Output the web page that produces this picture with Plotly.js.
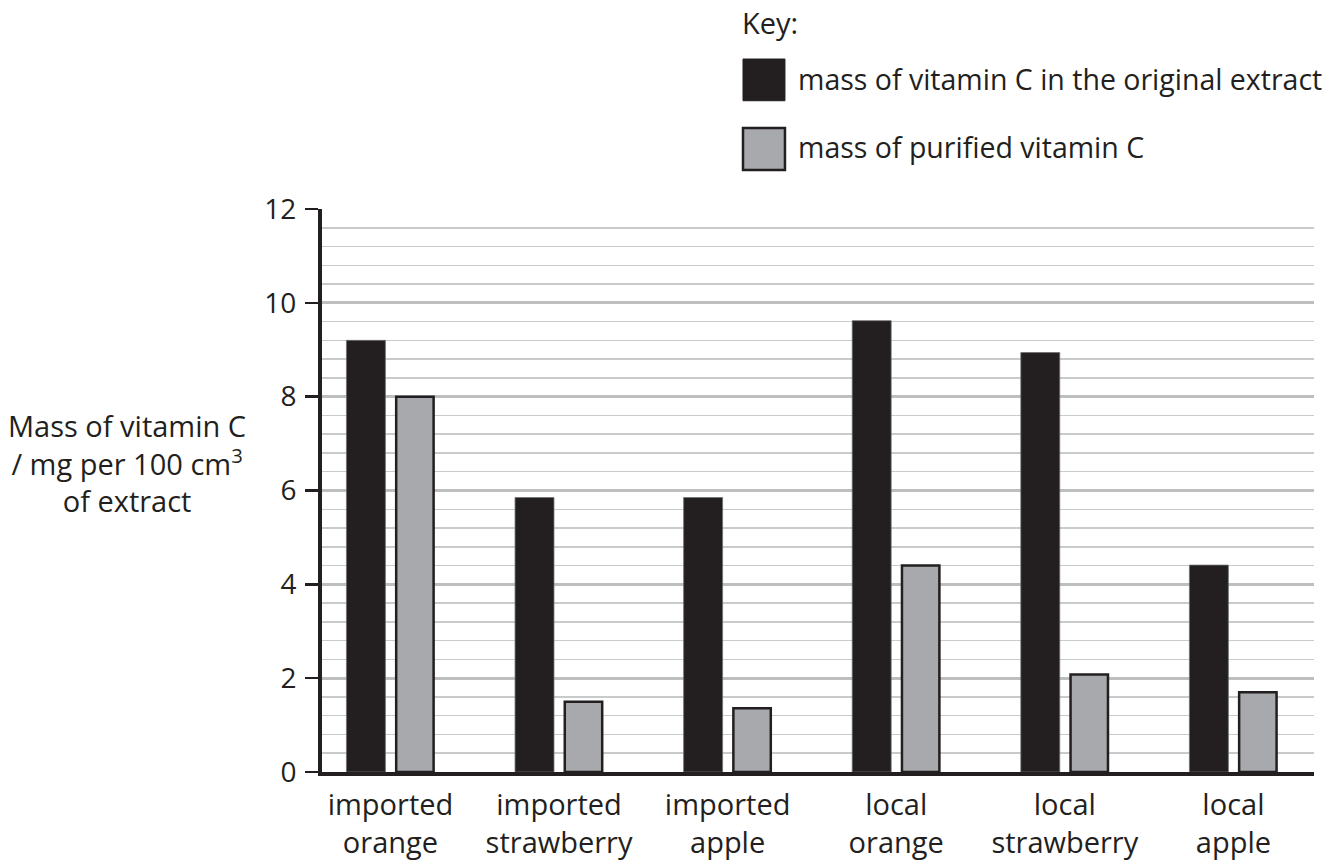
<!DOCTYPE html>
<html>
<head>
<meta charset="utf-8">
<script src="https://cdn.plot.ly/plotly-3.0.1.min.js"></script>
<style>html,body{margin:0;padding:0;background:#fff;}#chart{width:1340px;height:861px;}</style>
</head>
<body>
<div id="chart"></div>
<script>
const categories = ["imported<br>orange", "imported<br>strawberry", "imported<br>apple", "local<br>orange", "local<br>strawberry", "local<br>apple"];
const originalExtract = [9.2, 5.85, 5.85, 9.62, 8.94, 4.41];
const purifiedVitaminC = [8.0, 1.5, 1.36, 4.4, 2.08, 1.7];
const seriesNames = ["mass of vitamin C in the original extract", "mass of purified vitamin C"];
const yTickValues = [0, 2, 4, 6, 8, 10, 12];
const keyTitle = "Key:";
const yAxisTitle = "Mass of vitamin C<br>/ mg per 100 cm<sup>3</sup><br>of extract";

const ink = "#231f20";
const grey = "#a7a9ac";
const FONT = "Open Sans, Noto Sans, sans-serif";

const traces = [
  {type: "bar", x: categories, y: originalExtract, name: seriesNames[0],
   width: 0.231, offset: -0.261,
   marker: {color: ink, line: {color: "#6d6e71", width: 0.8}}, showlegend: false, hoverinfo: "x+y"},
  {type: "bar", x: categories, y: purifiedVitaminC, name: seriesNames[1],
   width: 0.222, offset: 0.034,
   marker: {color: grey, line: {color: ink, width: 2.5}}, showlegend: false, hoverinfo: "x+y"}
];

const layout = {
  width: 1340, height: 861,
  margin: {l: 322, r: 26, t: 209, b: 89, pad: 0},
  paper_bgcolor: "#fff", plot_bgcolor: "#fff",
  font: {family: FONT, color: ink, size: 29},
  barmode: "overlay",
  xaxis: {
    type: "category", range: [-0.406, 5.478], fixedrange: true,
    showline: true, linecolor: ink, linewidth: 3.5,
    showgrid: false, zeroline: false, ticks: "",
    ticklabelstandoff: 5,
    tickfont: {family: FONT, size: 29, color: ink}
  },
  yaxis: {
    range: [0, 12], tickvals: yTickValues, ticktext: yTickValues.map(String),
    showline: true, linecolor: ink, linewidth: 4,
    ticks: "outside", ticklen: 13, tickwidth: 2.5, tickcolor: ink,
    ticklabelstandoff: 3,
    showgrid: true, gridcolor: "#bcbec0", gridwidth: 3, zeroline: false,
    tickfont: {family: FONT, size: 28, color: ink},
    minor: {dtick: 0.4, tick0: 0, showgrid: true, gridcolor: "#c9cacc", gridwidth: 1.5, ticks: ""}
  },
  shapes: [
    {type: "rect", xref: "paper", yref: "paper", x0: 0.4244, x1: 0.4667, y0: 1.1923, y1: 1.2664,
     fillcolor: ink, line: {color: ink, width: 1}},
    {type: "rect", xref: "paper", yref: "paper", x0: 0.4244, x1: 0.4667, y0: 1.0693, y1: 1.1439,
     fillcolor: grey, line: {color: ink, width: 2.5}}
  ],
  annotations: [
    {text: keyTitle, xref: "paper", yref: "paper", x: 0.4218, y: 1.331, xanchor: "left", yanchor: "middle",
     showarrow: false, font: {family: FONT, size: 29, color: ink}},
    {text: seriesNames[0], xref: "paper", yref: "paper", x: 0.4778, y: 1.2305, xanchor: "left", yanchor: "middle",
     showarrow: false, font: {family: FONT, size: 28.5, color: ink}},
    {text: seriesNames[1], xref: "paper", yref: "paper", x: 0.4778, y: 1.1095, xanchor: "left", yanchor: "middle",
     showarrow: false, font: {family: FONT, size: 28.5, color: ink}},
    {text: yAxisTitle, xref: "paper", yref: "paper", x: -0.197, y: 0.549, xanchor: "center", yanchor: "middle",
     align: "center", showarrow: false, font: {family: FONT, size: 29, color: ink}}
  ]
};

Plotly.newPlot("chart", traces, layout, {displayModeBar: false, staticPlot: true});
</script>
</body>
</html>
